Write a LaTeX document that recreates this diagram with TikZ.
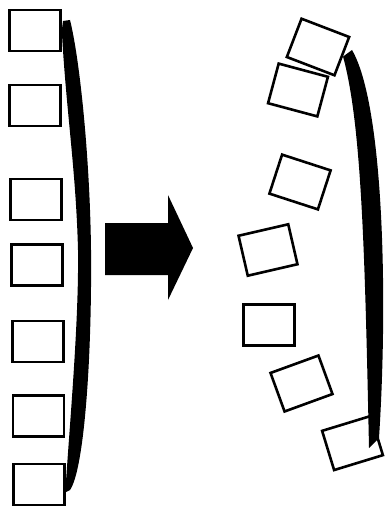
\documentclass[tikz,border=0pt]{standalone}
\usetikzlibrary{calc}
\tikzset{box/.style={draw,line width=2.6pt,minimum width=51pt,minimum height=41pt,inner sep=0pt}}

\begin{document}
\begin{tikzpicture}[x=1pt,y=-1pt]
  \useasboundingbox (0,0) rectangle (385,508);
  \foreach \x/\y [count=\i] in {35/30.5,35/105.5,36/199.5,37/265,38/341.5,38.5/416,39/484.5}
    \node[box] (l\i) at (\x,\y) {};
  \fill (63,21) -- (l1.east) .. controls (66,110) and (76,170) .. (78,250)
    .. controls (79,320) and (70,420) .. (l7.east) -- (66,492) -- (70,490)
    .. controls (84,470) and (92,360) .. (91,250) .. controls (90,160) and (80,60) .. (70,20) -- cycle;
  \fill (105,223) -- (168,223) -- (168,195) -- (193,248) -- (168,300) -- (168,275) -- (105,275) -- cycle;
  \foreach \x/\y/\a [count=\i] in {318/47/-21,298/90/-15,300/182/-18,268/250/13,269/325/0,301.5/383.5/20,352.5/443/17}
    \node[box,rotate=\a] (r\i) at (\x,\y) {};
  \fill (r1.east) .. controls (362,125) and (365,260) .. (369,448) -- (379,438)
    .. controls (388,300) and (384,105) .. (352,50) -- cycle;
\end{tikzpicture}
\end{document}
